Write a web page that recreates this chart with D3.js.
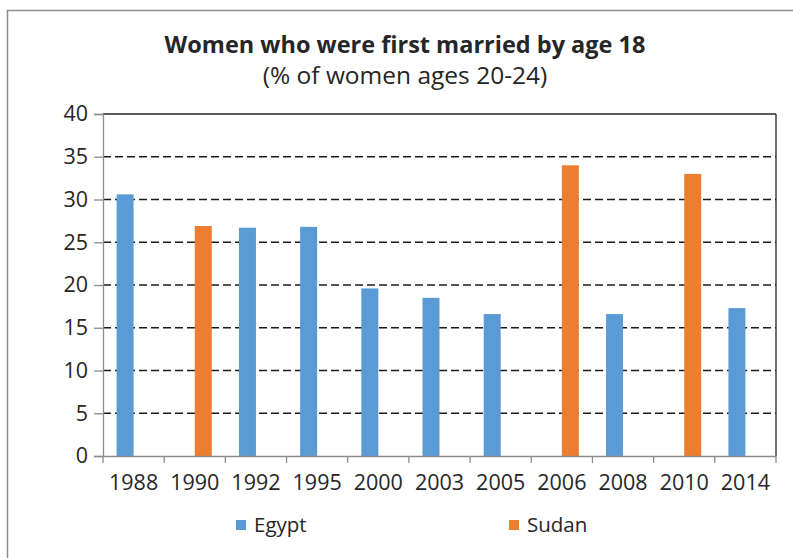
<!DOCTYPE html>
<html>
<head>
<meta charset="utf-8">
<script src="https://cdn.jsdelivr.net/npm/d3@7/dist/d3.min.js"></script>
<style>
  html, body { margin: 0; padding: 0; background: #fff; }
  svg { display: block; }
  text { font-family: "Open Sans", "Liberation Sans", sans-serif; fill: #262626; }
</style>
</head>
<body>
<svg id="chart" width="793" height="558"></svg>
<script>
const categories = ["1988", "1990", "1992", "1995", "2000", "2003", "2005", "2006", "2008", "2010", "2014"];
const seriesNames = ["Egypt", "Sudan"];
const egypt = [30.6, null, 26.7, 26.8, 19.6, 18.5, 16.6, null, 16.6, null, 17.3];
const sudan = [null, 26.9, null, null, null, null, null, 34.0, null, 33.0, null];
const yTicks = [0, 5, 10, 15, 20, 25, 30, 35, 40];
const colors = ["#5b9bd5", "#ed7d31"];
const titleText = "Women who were first married by age 18";
const subtitleText = "(% of women ages 20-24)";

const svg = d3.select("#chart");
const plot = { left: 103, right: 776, top: 114, bottom: 456 };

// outer chart border
svg.append("rect")
  .attr("x", 7.5).attr("y", 10.5)
  .attr("width", 800).attr("height", 560)
  .attr("fill", "#fff").attr("stroke", "#8c8c8c").attr("stroke-width", 1.5);

const x0 = d3.scaleBand().domain(categories).range([plot.left, plot.right]).paddingInner(0).paddingOuter(0);
const x1 = d3.scaleBand().domain(seriesNames).range([0, x0.bandwidth()]).paddingInner(0).paddingOuter(0.8);
const y = d3.scaleLinear().domain([0, 40]).range([plot.bottom, plot.top]);

// gridlines (dashed) for 5..35
svg.append("g")
  .selectAll("line")
  .data(yTicks.filter(t => t > 0 && t < 40))
  .join("line")
  .attr("x1", plot.left).attr("x2", plot.right)
  .attr("y1", d => y(d)).attr("y2", d => y(d))
  .attr("stroke", "#1a1a1a").attr("stroke-width", 1.3)
  .attr("stroke-dasharray", "8,4");

// top and right plot border
svg.append("line").attr("x1", plot.left).attr("x2", plot.right)
  .attr("y1", y(40)).attr("y2", y(40)).attr("stroke", "#262626").attr("stroke-width", 1.3);
svg.append("line").attr("x1", plot.right).attr("x2", plot.right)
  .attr("y1", y(40)).attr("y2", plot.bottom).attr("stroke", "#262626").attr("stroke-width", 1.3);

// bars
const rows = categories.map((c, i) => ({ cat: c, values: [egypt[i], sudan[i]] }));
const g = svg.append("g")
  .selectAll("g")
  .data(rows)
  .join("g")
  .attr("transform", d => `translate(${x0(d.cat)},0)`);
g.selectAll("rect")
  .data(d => d.values.map((v, j) => ({ s: seriesNames[j], v, j })).filter(e => e.v != null))
  .join("rect")
  .attr("x", d => x1(d.s))
  .attr("width", x1.bandwidth())
  .attr("y", d => y(d.v))
  .attr("height", d => y(0) - y(d.v))
  .attr("fill", d => colors[d.j]);

// y axis
const yAxis = svg.append("g")
  .attr("transform", `translate(${plot.left},0)`)
  .call(d3.axisLeft(y).tickValues(yTicks).tickSize(9).tickPadding(6));
yAxis.select(".domain").attr("stroke", "#8c8c8c").attr("stroke-width", 1.3);
yAxis.selectAll(".tick line").attr("stroke", "#8c8c8c").attr("stroke-width", 1.3);
yAxis.selectAll(".tick text").style("font-size", "21.5px").attr("fill", "#262626");

// x axis with ticks at category boundaries
const xAxis = svg.append("g")
  .attr("transform", `translate(0,${plot.bottom})`)
  .call(d3.axisBottom(x0).tickSize(0).tickPadding(19));
xAxis.select(".domain").attr("stroke", "#8c8c8c").attr("stroke-width", 1.3);
xAxis.selectAll(".tick text").style("font-size", "21.5px").attr("fill", "#262626").attr("dy", "0.71em");
const boundaries = categories.map(c => x0(c)).concat([x0(categories[categories.length - 1]) + x0.bandwidth()]);
xAxis.selectAll(".bnd")
  .data(boundaries)
  .join("line")
  .attr("class", "bnd")
  .attr("x1", d => d).attr("x2", d => d)
  .attr("y1", 0).attr("y2", 7)
  .attr("stroke", "#8c8c8c").attr("stroke-width", 1.3);

// titles
svg.append("text").attr("x", 405).attr("y", 53)
  .attr("text-anchor", "middle")
  .style("font-size", "23.5px").style("font-weight", "bold").attr("fill", "#000")
  .text(titleText);
svg.append("text").attr("x", 405).attr("y", 84)
  .attr("text-anchor", "middle")
  .style("font-size", "24.5px").attr("fill", "#262626")
  .text(subtitleText);

// legend
const legendX = [236, 509];
const legend = svg.append("g").selectAll("g")
  .data(seriesNames)
  .join("g")
  .attr("transform", (d, i) => `translate(${legendX[i]},520)`);
legend.append("rect").attr("width", 10).attr("height", 10).attr("fill", (d, i) => colors[i]);
legend.append("text").attr("x", 18).attr("y", 12)
  .style("font-size", "20.5px").attr("fill", "#262626")
  .text(d => d);
</script>
</body>
</html>
